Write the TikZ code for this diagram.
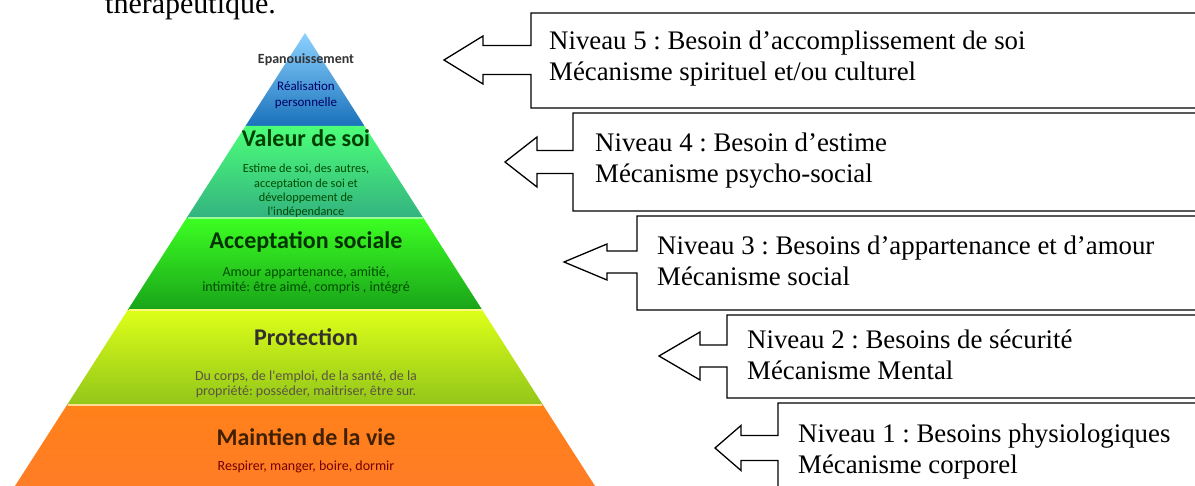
\documentclass[tikz,border=0pt]{standalone}
\usepackage{fontspec}
\setmainfont{Liberation Serif}
\newfontfamily\pyrfont{Carlito}
\frenchspacing
\begin{document}
\begin{tikzpicture}[x=1pt,y=-1pt,
  callout/.style={draw=black,line width=1.3pt,fill=white,line join=miter},
  lbl/.style={anchor=west,align=left,inner sep=0pt,font=\fontsize{26.8}{31}\selectfont},
  big/.style={inner sep=0pt,font=\pyrfont\bfseries\fontsize{24}{26}\selectfont},
  small/.style={inner sep=0pt,align=center,font=\pyrfont\fontsize{14}{15.5}\selectfont},
  sep/.style={line width=2.5pt}]
\useasboundingbox (0,0) rectangle (1195,486);
\fill[white] (0,0) rectangle (1195,486);

% title fragment
\node[anchor=base west,inner sep=0pt,font=\fontsize{30}{32}\selectfont] (title) at (105,14) {thérapeutique.};

% pyramid levels
\shade[top color=cyan!60!blue!45, bottom color=blue!45!cyan!70!black!90] (305,33) -- (364.5,126) -- (245.5,126) -- cycle;
\shade[top color=green!75!cyan!70, bottom color=teal!75!green!80] (245.5,126) -- (364.5,126) -- (423.4,218) -- (186.6,218) -- cycle;
\shade[top color=green!85!white!90!yellow, bottom color=green!60!black!90] (186.6,218) -- (423.4,218) -- (482.3,310) -- (127.7,310) -- cycle;
\shade[top color=yellow!85!green!90, bottom color=yellow!70!green!75!black!90] (127.7,310) -- (482.3,310) -- (543,405) -- (67,405) -- cycle;
\shade[top color=orange!90!red!90, bottom color=orange!80!red!85] (67,405) -- (543,405) -- (595,486) -- (15,486) -- cycle;
% light separators
\draw[sep,green!40!white] (187.5,218) -- (422.5,218);
\draw[sep,yellow!50!white] (128.5,310) -- (481.5,310);
\draw[sep,yellow!40!orange!40!white] (68,405) -- (542,405);

% pyramid texts
\node[inner sep=0pt,font=\pyrfont\bfseries\fontsize{14}{16}\selectfont,text=black!80] (l5a) at (306,60) {Epanouissement};
\node[small,font=\pyrfont\fontsize{13}{16.5}\selectfont,text=blue!40!black] (l5b) at (306,95) {Réalisation\\personnelle};
\node[big,text=green!25!black] (l4a) at (306,138) {Valeur de soi};
\node[small,font=\pyrfont\fontsize{12.3}{14.3}\selectfont,text=green!30!black] (l4b) at (306,191) {Estime de soi, des autres,\\acceptation  de soi et\\développement  de\\l'indépendance};
\node[big,text=green!20!black] (l3a) at (306,242) {Acceptation sociale};
\node[small,text=green!30!black] (l3b) at (306,280.5) {Amour appartenance, amitié,\\intimité: être aimé, compris , intégré};
\node[big,text=black!92!yellow] (l2a) at (306,337) {Protection};
\node[small,text=black!75!yellow] (l2b) at (306,384.5) {Du corps, de l'emploi, de la santé, de la\\propriété: posséder, maitriser, être sur.};
\node[big,text=black!75!orange] (l1a) at (306,437) {Maintien de la vie};
\node[small,text=red!45!black] (l1b) at (306,467) {Respirer, manger, boire, dormir};

% callouts: #1 box left, #2 top, #3 bottom, #4 head base, #5 tip x, #6 centre y, #7 head half, #8 shaft half
\newcommand\mycallout[8]{%
  \draw[callout] (1205,#2) -- (#1,#2) -- (#1,#6-#8) -- (#4,#6-#8) -- (#4,#6-#7) -- (#5,#6)
    -- (#4,#6+#7) -- (#4,#6+#8) -- (#1,#6+#8) -- (#1,#3) -- (1205,#3);}
\mycallout{531}{13}{108}{483}{444}{60}{24}{14.5}
\mycallout{573}{113}{211}{537}{505}{162}{25}{11.5}
\mycallout{637}{216}{310}{607}{564}{262}{18}{11}
\mycallout{727}{315}{398}{700}{659}{356}{24}{11}
\mycallout{778}{403}{500}{741}{715}{448}{22.5}{12.5}

\node[lbl] (n5) at (549,59) {Niveau 5 : Besoin d’accomplissement de soi\\Mécanisme spirituel et/ou culturel};
\node[lbl] (n4) at (595,161) {Niveau 4 : Besoin d’estime\\Mécanisme psycho-social};
\node[lbl] (n3) at (657,261) {Niveau 3 : Besoins d’appartenance et d’amour\\Mécanisme social};
\node[lbl] (n2) at (747,355) {Niveau 2 : Besoins de sécurité\\Mécanisme Mental};
\node[lbl] (n1) at (798,452) {Niveau 1 : Besoins physiologiques\\Mécanisme corporel};
\end{tikzpicture}
\end{document}
